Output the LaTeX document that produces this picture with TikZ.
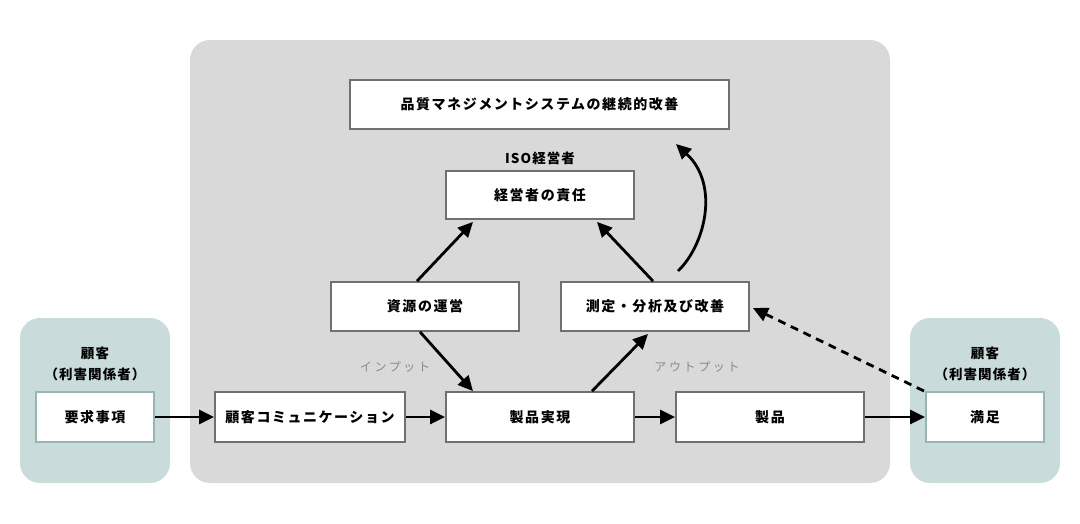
\documentclass[tikz,border=0pt]{standalone}
\usepackage{fontspec}
\setmainfont{Noto Sans CJK JP}
\usetikzlibrary{arrows.meta}
\definecolor{panelgray}{HTML}{D9D9D9}
\definecolor{panelteal}{HTML}{C9DCDB}
\definecolor{boxline}{HTML}{707070}
\definecolor{tealline}{HTML}{97B6B3}
\definecolor{labelgray}{HTML}{8A8A8A}
\tikzset{
  box/.style={draw=boxline, line width=1.8pt, fill=white, minimum width=188pt, minimum height=49pt, inner sep=0pt,
    font=\fontsize{14}{16}\selectfont\bfseries\addfontfeature{LetterSpace=11}},
  tbox/.style={box, draw=tealline, line width=2pt, minimum width=118pt},
  lbl/.style={font=\fontsize{13.5}{16}\selectfont\bfseries\addfontfeature{LetterSpace=8}, inner sep=0pt},
  glbl/.style={font=\fontsize{12}{14}\selectfont\addfontfeature{LetterSpace=22}, text=labelgray, inner sep=0pt},
  arr/.style={line width=2.8pt, -{Triangle[length=15pt,width=14pt]}},
  darr/.style={arr, dash pattern=on 8pt off 6pt},
  panel/.style={rounded corners=20pt}
}
\begin{document}
\begin{tikzpicture}[x=1pt,y=-1pt]
\useasboundingbox (0,0) rectangle (1080,523);
% panels
\fill[panelteal, panel] (20,318) rectangle (170,483);
\fill[panelgray, panel] (190,40) rectangle (890,483);
\fill[panelteal, panel] (910,318) rectangle (1060,483);
% labels
\node[lbl] (lc1) at (95,353) {顧客};
\node[lbl] (lc2) at (95,374) {（利害関係者）};
\node[lbl] (rc1) at (985,353) {顧客};
\node[lbl] (rc2) at (985,374) {（利害関係者）};
\node[lbl] (iso) at (540,158) {ISO経営者};
\node[glbl] (inp) at (395,367) {インプット};
\node[glbl] (outp) at (697,367) {アウトプット};
% boxes
\node[box, minimum width=379pt] (qms) at (539.5,104.5) {品質マネジメントシステムの継続的改善};
\node[box, minimum height=48pt] (mgmt) at (540,195) {経営者の責任};
\node[box] (res) at (425,306.5) {資源の運営};
\node[box] (meas) at (655,306.5) {測定・分析及び改善};
\node[tbox, minimum height=50pt] (req) at (95,417) {要求事項};
\node[box, minimum width=190pt, minimum height=50pt] (comm) at (310,417) {顧客コミュニケーション};
\node[box, minimum height=50pt] (real) at (540,417) {製品実現};
\node[box, minimum height=50pt] (prod) at (770,417) {製品};
\node[tbox, minimum height=50pt] (sat) at (985,417) {満足};
% connectors
\draw[arr] (req.east) -- (comm.west);
\draw[arr] (comm.east) -- (real.west);
\draw[arr] (real.east) -- (prod.west);
\draw[arr] (prod.east) -- (sat.west);
\draw[arr] ([xshift=-8pt]res.north) -- ([xshift=-67pt,yshift=-2pt]mgmt.south);
\draw[arr] ([xshift=-2pt]meas.north) -- ([xshift=57pt,yshift=-2pt]mgmt.south);
\draw[arr] ([xshift=-5pt]res.south) -- ([xshift=-67pt]real.north);
\draw[arr] ([xshift=52pt]real.north) -- ([xshift=-7pt,yshift=-2pt]meas.south);
\coordinate (cs) at (678,271);
\coordinate (ce) at (676,144);
\draw[arr] (cs) .. controls (705,245) and (720,185) .. (ce);
\draw[darr] ([xshift=-1pt]sat.north west) -- ([xshift=3pt,yshift=-1.5pt]meas.east);
\end{tikzpicture}
\end{document}
